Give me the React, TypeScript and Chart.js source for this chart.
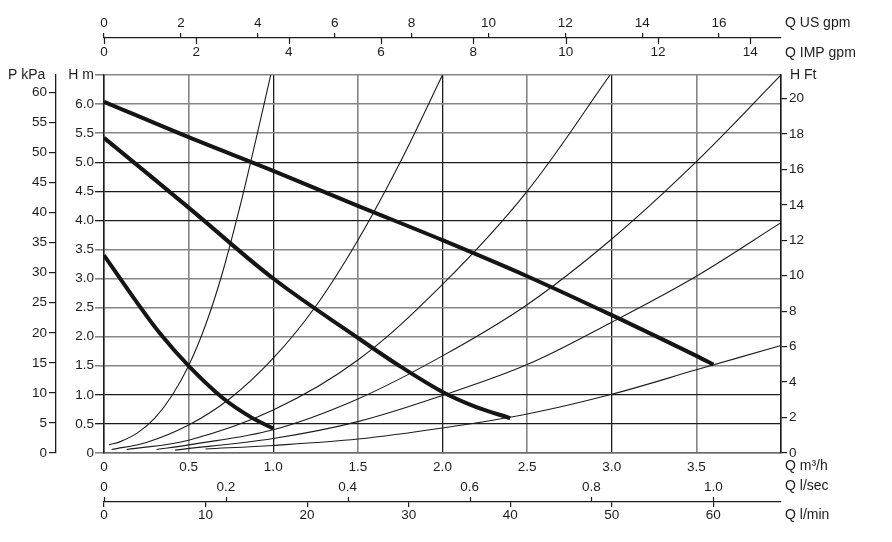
import { useEffect, useRef } from 'react';
import { Chart, registerables } from 'chart.js';

Chart.register(...registerables);

// ---------- axis ranges / unit conversions ----------
const Q_MAX = 4.0; // m3/h
const H_MAX = 6.5; // m
const KPA_MAX = 62.9;
const FT_PER_M = 3.28084;
const USGPM_PER_M3H = 4.40287;
const IMPGPM_PER_M3H = 3.66615;
const LSEC_PER_M3H = 1 / 3.6;
const LMIN_PER_M3H = 1000 / 60;

// ---------- tick labels ----------
const flowTicks = [0, 0.5, 1.0, 1.5, 2.0, 2.5, 3.0, 3.5];
const headTicks = [0, 0.5, 1.0, 1.5, 2.0, 2.5, 3.0, 3.5, 4.0, 4.5, 5.0, 5.5, 6.0];
const kpaTicks = [0, 5, 10, 15, 20, 25, 30, 35, 40, 45, 50, 55, 60];
const ftTicks = [0, 2, 4, 6, 8, 10, 12, 14, 16, 18, 20];
const usGpmTicks = [0, 2, 4, 6, 8, 10, 12, 14, 16];
const impGpmTicks = [0, 2, 4, 6, 8, 10, 12, 14];
const lsecTicks = [0, 0.2, 0.4, 0.6, 0.8, 1.0];
const lminTicks = [0, 10, 20, 30, 40, 50, 60];

// ---------- pump speed curves (Q m3/h, H m) ----------
const speed3Q = [0, 0.5, 1.0, 1.5, 2.0, 2.5, 3.0, 3.5, 3.6];
const speed3H = [6.04, 5.43, 4.85, 4.25, 3.66, 3.04, 2.37, 1.67, 1.52];
const speed2Q = [0, 0.5, 1.0, 1.5, 1.75, 2.0, 2.2, 2.4];
const speed2H = [5.42, 4.22, 3.0, 1.98, 1.49, 1.05, 0.79, 0.6];
const speed1Q = [0, 0.17, 0.33, 0.5, 0.7, 0.86, 1.0];
const speed1H = [3.4, 2.69, 2.06, 1.5, 0.95, 0.63, 0.42];

// ---------- system curves (Q m3/h, H m) ----------
const sysAQ = [0.03, 0.1, 0.2, 0.3, 0.4, 0.5, 0.6, 0.7, 0.8, 0.9, 0.985];
const sysAH = [0.14, 0.2, 0.35, 0.6, 0.98, 1.5, 2.2, 3.1, 4.2, 5.42, 6.5];
const sysBQ = [0.045, 0.25, 0.5, 0.75, 1.0, 1.25, 1.5, 1.75, 2.0];
const sysBH = [0.06, 0.18, 0.48, 0.95, 1.63, 2.52, 3.66, 5.0, 6.5];
const sysCQ = [0.134, 0.5, 1.0, 1.5, 2.0, 2.5, 2.99];
const sysCH = [0.06, 0.22, 0.74, 1.6, 2.9, 4.5, 6.5];
const sysDQ = [0.31, 0.5, 1.0, 1.5, 2.0, 2.5, 3.0, 3.5, 4.0];
const sysDH = [0.06, 0.14, 0.4, 0.93, 1.67, 2.55, 3.68, 5.01, 6.5];
const sysEQ = [0.42, 1.0, 1.5, 2.0, 2.5, 3.0, 3.5, 4.0];
const sysEH = [0.05, 0.25, 0.54, 0.99, 1.52, 2.25, 3.04, 3.96];
const sysFQ = [0.6, 1.0, 1.5, 2.0, 2.5, 3.0, 3.5, 4.0];
const sysFH = [0.07, 0.13, 0.24, 0.43, 0.67, 1.01, 1.43, 1.85];

// ---------- styling ----------
const FONT = '"Liberation Sans", Arial, Helvetica, sans-serif';
const INK = '#1c1c1c';
const GREY = '#858585';
const darkFlowLines = [1.0, 2.0, 3.0];
const darkHeadLines = [0.5, 1.0, 4.0, 4.5, 5.0];

const pts = (qs: number[], hs: number[]) => qs.map((q, i) => ({ x: q, y: hs[i] }));
const fmt1 = (v: number) => (v === 0 ? '0' : v.toFixed(1));
const setTicks = (vals: number[]) => (s: any) => {
  s.ticks = vals.map((value) => ({ value }));
};
const tickFont = { family: FONT, size: 13.5 };

const extras = {
  id: 'extras',
  afterDraw(chart: any) {
    const { ctx, chartArea: ca, scales } = chart;
    const us = scales.xUs, imp = scales.xImp, ls = scales.xLs, lm = scales.xLm;
    ctx.save();
    ctx.strokeStyle = INK;
    ctx.lineWidth = 1.2;
    imp.ticks.forEach((t: any) => {
      const x = Math.round(imp.getPixelForValue(t.value)) + 0.5;
      ctx.beginPath();
      ctx.moveTo(x, us.bottom);
      ctx.lineTo(x, us.bottom + 6);
      ctx.stroke();
    });
    ls.ticks.forEach((t: any) => {
      const x = Math.round(ls.getPixelForValue(t.value)) + 0.5;
      ctx.beginPath();
      ctx.moveTo(x, lm.top);
      ctx.lineTo(x, lm.top - 5);
      ctx.stroke();
    });
    ctx.fillStyle = INK;
    ctx.font = `14px ${FONT}`;
    ctx.textBaseline = 'middle';
    ctx.textAlign = 'left';
    const tx = ca.right + 4;
    ctx.fillText('Q US gpm', tx, us.bottom - 15);
    ctx.fillText('Q IMP gpm', tx, imp.bottom - 22);
    ctx.fillText('H Ft', ca.right + 9, ca.top);
    ctx.fillText('Q m³/h', tx, ca.bottom + 13);
    ctx.fillText('Q l/sec', tx, lm.top - 16);
    ctx.fillText('Q l/min', tx, lm.top + 13);
    ctx.fillText('P kPa', 8, ca.top);
    ctx.textAlign = 'right';
    ctx.fillText('H m', 94, ca.top);
    ctx.restore();
  },
};

export default function App() {
  const ref = useRef<HTMLCanvasElement | null>(null);

  useEffect(() => {
    if (!ref.current) return;
    const thin = (qs: number[], hs: number[]) => ({
      data: pts(qs, hs),
      borderColor: INK,
      borderWidth: 1.1,
      pointRadius: 0,
      tension: 0.35,
      xAxisID: 'x',
      yAxisID: 'y',
      order: 2,
    });
    const thick = (qs: number[], hs: number[]) => ({
      data: pts(qs, hs),
      borderColor: '#151515',
      borderWidth: 4,
      pointRadius: 0,
      tension: 0.35,
      xAxisID: 'x',
      yAxisID: 'y',
      order: 1,
    });

    const chart = new Chart(ref.current, {
      type: 'line',
      data: {
        datasets: [
          thin(sysAQ, sysAH),
          thin(sysBQ, sysBH),
          thin(sysCQ, sysCH),
          thin(sysDQ, sysDH),
          thin(sysEQ, sysEH),
          thin(sysFQ, sysFH),
          thick(speed3Q, speed3H),
          thick(speed2Q, speed2H),
          thick(speed1Q, speed1H),
        ] as any,
      },
      options: {
        animation: false,
        responsive: true,
        maintainAspectRatio: false,
        layout: { padding: 0 },
        plugins: { legend: { display: false }, tooltip: { enabled: false } },
        scales: {
          x: {
            type: 'linear',
            position: 'bottom',
            weight: 0,
            min: 0,
            max: Q_MAX,
            afterBuildTicks: setTicks([...flowTicks, Q_MAX]),
            afterFit: (s: any) => { s.height = 24; },
            grid: {
              color: (c: any) => (darkFlowLines.includes(c.tick?.value) ? INK : GREY),
              lineWidth: (c: any) => (darkFlowLines.includes(c.tick?.value) ? 1.3 : 1.6),
              drawTicks: false,
            },
            border: { display: true, color: '#6a6a6a', width: 1.6 },
            ticks: {
              color: INK, font: tickFont, padding: 6.5, autoSkip: false, maxRotation: 0, minRotation: 0,
              callback: (v: any) => (v >= Q_MAX ? '' : fmt1(v)),
            },
          },
          xLs: {
            type: 'linear',
            position: 'bottom',
            weight: 1,
            min: 0,
            max: Q_MAX * LSEC_PER_M3H,
            afterBuildTicks: setTicks(lsecTicks),
            afterFit: (s: any) => { s.height = 25; },
            grid: { display: false, drawTicks: false },
            border: { display: false },
            ticks: { color: INK, font: tickFont, padding: 2, autoSkip: false, maxRotation: 0, minRotation: 0, callback: (v: any) => fmt1(v) },
          },
          xLm: {
            type: 'linear',
            position: 'bottom',
            weight: 2,
            min: 0,
            max: Q_MAX * LMIN_PER_M3H,
            afterBuildTicks: setTicks(lminTicks),
            afterFit: (s: any) => { s.height = 40; },
            grid: { drawOnChartArea: false, drawTicks: true, tickLength: 5, color: INK, lineWidth: 1.2 },
            border: { display: true, color: INK, width: 1.3 },
            ticks: { color: INK, font: tickFont, padding: 0, autoSkip: false, maxRotation: 0, minRotation: 0, callback: (v: any) => String(v) },
          },
          xImp: {
            type: 'linear',
            position: 'top',
            weight: 0,
            min: 0,
            max: Q_MAX * IMPGPM_PER_M3H,
            afterBuildTicks: setTicks(impGpmTicks),
            afterFit: (s: any) => { s.height = 37; },
            grid: { display: false, drawTicks: false },
            border: { display: false },
            ticks: { color: INK, font: tickFont, padding: 15, autoSkip: false, maxRotation: 0, minRotation: 0, callback: (v: any) => String(v) },
          },
          xUs: {
            type: 'linear',
            position: 'top',
            weight: 1,
            min: 0,
            max: Q_MAX * USGPM_PER_M3H,
            afterBuildTicks: setTicks(usGpmTicks),
            afterFit: (s: any) => { s.height = 38; },
            grid: { drawOnChartArea: false, drawTicks: true, tickLength: 5, color: INK, lineWidth: 1.2 },
            border: { display: true, color: INK, width: 1.3 },
            ticks: { color: INK, font: tickFont, padding: 1.5, autoSkip: false, maxRotation: 0, minRotation: 0, callback: (v: any) => String(v) },
          },
          y: {
            type: 'linear',
            position: 'left',
            weight: 0,
            min: 0,
            max: H_MAX,
            afterBuildTicks: setTicks([...headTicks, H_MAX]),
            afterFit: (s: any) => { s.width = 48; },
            grid: {
              color: (c: any) => (darkHeadLines.includes(c.tick?.value) ? INK : GREY),
              lineWidth: (c: any) => (darkHeadLines.includes(c.tick?.value) ? 1.3 : 1.6),
              drawTicks: true,
              tickLength: 9,
            },
            border: { display: true, color: INK, width: 1.5 },
            ticks: {
              color: INK, font: tickFont, padding: 1, autoSkip: false,
              callback: (v: any) => (v >= H_MAX ? '' : fmt1(v)),
            },
          },
          yKpa: {
            type: 'linear',
            position: 'left',
            weight: 1,
            min: 0,
            max: KPA_MAX,
            afterBuildTicks: setTicks(kpaTicks),
            afterFit: (s: any) => { s.width = 56; },
            grid: { drawOnChartArea: false, drawTicks: true, tickLength: 7, color: INK, lineWidth: 1.2 },
            border: { display: true, color: INK, width: 1.3 },
            ticks: { color: INK, font: tickFont, padding: 2, autoSkip: false, callback: (v: any) => String(v) },
          },
          yFt: {
            type: 'linear',
            position: 'right',
            weight: 0,
            min: 0,
            max: H_MAX * FT_PER_M,
            afterBuildTicks: setTicks(ftTicks),
            afterFit: (s: any) => { s.width = 111; },
            grid: { drawOnChartArea: false, drawTicks: true, tickLength: 6, color: INK, lineWidth: 1.2 },
            border: { display: true, color: INK, width: 1.5 },
            ticks: { color: INK, font: tickFont, padding: 2, autoSkip: false, callback: (v: any) => String(v) },
          },
        },
      } as any,
      plugins: [extras],
    });
    return () => chart.destroy();
  }, []);

  return (
    <div style={{ position: 'fixed', left: 0, top: 0, width: 892, height: 542, background: '#fff' }}>
      <canvas ref={ref} />
    </div>
  );
}
